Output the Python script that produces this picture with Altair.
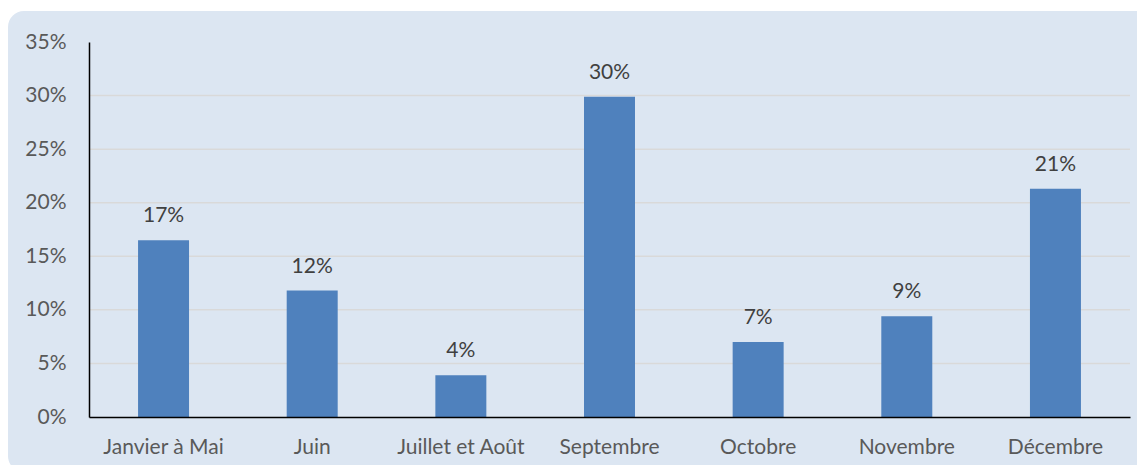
import altair as alt
import pandas as pd

categories = ["Janvier à Mai", "Juin", "Juillet et Août", "Septembre", "Octobre", "Novembre", "Décembre"]
values = [0.165, 0.118, 0.039, 0.299, 0.070, 0.094, 0.213]
labels = ["17%", "12%", "4%", "30%", "7%", "9%", "21%"]
y_ticks = [0, 0.05, 0.10, 0.15, 0.20, 0.25, 0.30, 0.35]

df = pd.DataFrame({"cat": categories, "val": values, "lab": labels})
grid_df = pd.DataFrame({"v": y_ticks})
FONT = "Lato"
TXT = "#595959"
FS = 21

bg = alt.Chart(alt.Data(values=[{"a": 1}])).mark_rect(
    fill="#dce6f2", cornerRadius=16
).encode(
    x=alt.value(-81), x2=alt.value(1080), y=alt.value(-31), y2=alt.value(430)
)

yscale = alt.Scale(domain=[0, 0.35], nice=False)
yaxis = alt.Axis(values=y_ticks, format=".0%", labelFont=FONT, labelFontSize=FS,
                 labelColor=TXT, domainColor="#000000", domainWidth=1.5, ticks=False,
                 labelPadding=23, grid=False, zindex=1)

grid = alt.Chart(grid_df).transform_filter("datum.v > 0 && datum.v < 0.34").mark_rule(
    color="#d9d9d9", strokeWidth=1.5
).encode(
    y=alt.Y("v:Q", scale=yscale, axis=yaxis, title=None),
    x=alt.value(0), x2=alt.value(1041),
)

base = alt.Chart(df)

bars = base.mark_bar(color="#4f81bd").encode(
    x=alt.X("cat:N", sort=categories, title=None,
            scale=alt.Scale(paddingInner=0.657, paddingOuter=0.33),
            axis=alt.Axis(labelAngle=0, labelFont=FONT, labelFontSize=FS, labelColor=TXT,
                          domainColor="#000000", domainWidth=1.5, ticks=False, labelPadding=19,
                          zindex=1)),
    y=alt.Y("val:Q", title=None, scale=yscale, axis=yaxis),
)

text = base.mark_text(font=FONT, fontSize=FS, color="#404040", baseline="bottom", dy=-14).encode(
    x=alt.X("cat:N", sort=categories),
    y="val:Q",
    text="lab:N",
)

chart = alt.layer(bg, grid, bars, text).resolve_scale(y="shared").properties(
    width=1041, height=375,
    autosize=alt.AutoSizeParams(type="none"),
    padding={"left": 81, "top": 34, "right": 7, "bottom": 48},
).configure(background="#ffffff").configure_view(stroke=None)

chart.save("out.html", embed_options={"renderer": "svg", "actions": False})
